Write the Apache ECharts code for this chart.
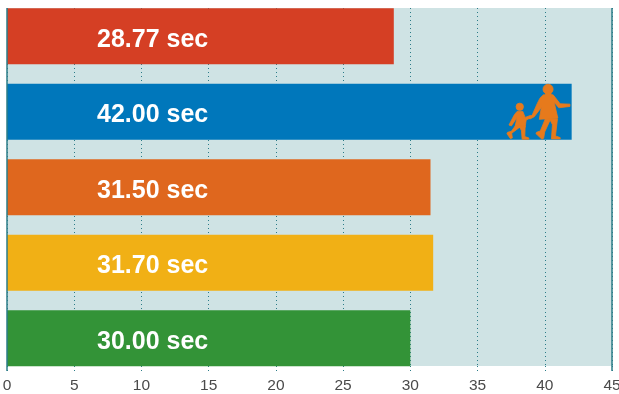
<!DOCTYPE html>
<html>
<head>
<meta charset="utf-8">
<style>html,body{margin:0;padding:0;background:#fff}#chart{width:619px;height:394px}</style>
<script src="https://cdn.jsdelivr.net/npm/echarts@6/dist/echarts.min.js"></script>
</head>
<body>
<div id="chart"></div>
<script>
// Five timed runs, top to bottom
const runs = ['run1', 'run2', 'run3', 'run4', 'run5'];
const seconds = [28.77, 42.00, 31.50, 31.70, 30.00];
const barColors = ['#D53F24', '#0077BB', '#DF671E', '#F1B015', '#339337'];
const axisEnds = [0, 45];
const teal = '#2B7C88';

// Adult and child walking hand in hand, drawn as separate closed shapes
const walkers = 'path://' +
  // adult head and neck
  'M189 57A15 15 0 1 1 219 57A15 15 0 1 1 189 57Z' +
  'M198 66L212 66L214 78L196 78Z' +
  // adult dress and both arms
  'M190 74L219 74L240 101L269 102L269 109L236 113L222 96L233 144L178 148L184 112L163 140L150 147L146 142L157 135L172 100L180 84Z' +
  // adult legs
  'M196 146L212 146L194 186L191 205L186 208L168 191L170 187L181 183Z' +
  'M208 146L232 146L226 198L240 203L240 207L214 207L217 164Z' +
  // child head
  'M109 110A11 11 0 1 1 131 110A11 11 0 1 1 109 110Z' +
  // child body and arms
  'M112 124L129 124L136 142L152 136L154 142L139 150L136 172L106 170L112 142L95 168L88 165L104 134Z' +
  // child legs
  'M108 166L122 170L96 190L98 204L92 206L82 191L84 187L95 184Z' +
  'M118 168L136 168L135 200L147 204L147 208L127 208L125 182Z';

const chart = echarts.init(document.getElementById('chart'), null, { renderer: 'canvas' });
chart.setOption({
  animation: false,
  backgroundColor: '#fff',
  grid: [
    { left: 7, width: 605, top: 8, height: 358, show: true, backgroundColor: '#CFE3E4', borderWidth: 0, outerBoundsMode: 'none' },
    { left: 7, width: 605, top: -1.5, height: 377.5, show: false, outerBoundsMode: 'none' }
  ],
  xAxis: [
    {
      gridIndex: 0, type: 'value', min: 0, max: 45, interval: 5,
      axisLine: { show: false },
      axisTick: { show: true, length: 5, lineStyle: { color: teal, type: [1, 3], width: 1 } },
      axisLabel: { color: '#4a4a4a', fontFamily: 'Liberation Sans', fontSize: 15.5, margin: 12, hideOverlap: false },
      splitLine: { show: true, lineStyle: { color: teal, type: [1, 3], width: 1 } }
    },
    { gridIndex: 1, type: 'value', min: 0, max: 45, show: false }
  ],
  yAxis: [
    { gridIndex: 0, type: 'value', min: 0, max: 1, show: false },
    { gridIndex: 1, type: 'category', data: runs, inverse: true, show: false }
  ],
  series: [
    {
      type: 'bar', xAxisIndex: 1, yAxisIndex: 1, barWidth: 56,
      data: seconds.map((v, i) => ({ value: v, itemStyle: { color: barColors[i] } })),
      label: {
        show: true, position: [90, '50%'], offset: [0, 3.5], verticalAlign: 'middle', align: 'left',
        color: '#fff', fontFamily: 'Liberation Sans', fontWeight: 'bold', fontSize: 25,
        formatter: p => p.value.toFixed(2) + ' sec'
      },
      markPoint: {
        silent: true,
        symbol: walkers,
        symbolSize: [63, 55],
        itemStyle: { color: '#E67A1C', borderColor: '#E67A1C', borderWidth: 0.8 },
        label: { show: false },
        data: [{ coord: [39.53, runs[1]] }]
      }
    },
    {
      // Solid end rules at both ends of the scale, running down past the plot
      type: 'custom', xAxisIndex: 0, yAxisIndex: 0, z: 5, silent: true, clip: false,
      data: axisEnds,
      renderItem: (params, api) => {
        const top = api.coord([api.value(0), 1]);
        const bottom = api.coord([api.value(0), 0]);
        return {
          type: 'line',
          shape: { x1: top[0], y1: top[1], x2: bottom[0], y2: bottom[1] + 5 },
          style: { stroke: teal, lineWidth: 1.5 }
        };
      }
    }
  ]
});
</script>
</body>
</html>
